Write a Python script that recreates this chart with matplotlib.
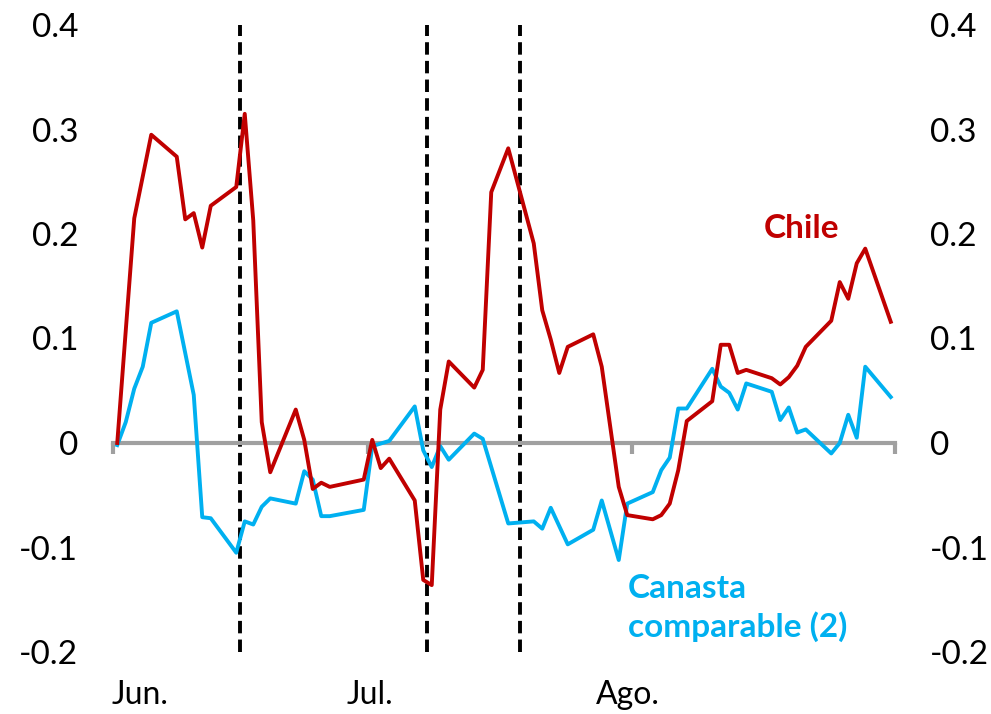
import matplotlib
matplotlib.use("Agg")
import matplotlib.pyplot as plt
import numpy as np

# Days since 1 June (business days shown as vertices)
chile_days = [0, 2, 4, 7, 8, 9, 10, 11, 14, 15, 16, 17, 18, 21, 22, 23, 24, 25, 29,
              30, 31, 32, 35, 36, 37, 38, 39, 42, 43, 44, 46, 49, 50, 51, 52, 53,
              56, 57, 59, 60, 63, 64, 65, 66, 67, 70, 71, 72, 73, 74, 77, 78, 79,
              80, 81, 84, 85, 86, 87, 88, 91]
chile = [0.000, 0.215, 0.295, 0.274, 0.214, 0.220, 0.187, 0.227, 0.245, 0.315, 0.213,
         0.020, -0.028, 0.032, 0.003, -0.044, -0.038, -0.042, -0.035,
         0.003, -0.024, -0.015, -0.055, -0.131, -0.136, 0.032, 0.078, 0.053, 0.070,
         0.240, 0.282, 0.191, 0.127, 0.099, 0.067, 0.092,
         0.104, 0.073, -0.042, -0.069, -0.073, -0.069, -0.058, -0.026, 0.021,
         0.040, 0.094, 0.094, 0.067, 0.070, 0.062, 0.056, 0.063,
         0.074, 0.092, 0.117, 0.154, 0.138, 0.172, 0.186, 0.116]

canasta_days = [0, 1, 2, 3, 4, 7, 8, 9, 10, 11, 14, 15, 16, 17, 18, 21, 22, 23, 24, 25,
                29, 30, 32, 35, 36, 37, 38, 39, 42, 43, 46, 49, 50, 51, 53,
                56, 57, 59, 60, 63, 64, 65, 66, 67, 70, 71, 72, 73, 74, 77, 78, 79,
                80, 81, 84, 85, 86, 87, 88, 91]
canasta = [-0.002, 0.020, 0.052, 0.073, 0.115, 0.126, 0.086, 0.046, -0.071, -0.072,
           -0.105, -0.075, -0.078, -0.061, -0.053, -0.058, -0.027, -0.035, -0.070, -0.070,
           -0.064, -0.003, 0.002, 0.035, -0.007, -0.023, -0.003, -0.016, 0.009, 0.004,
           -0.077, -0.075, -0.082, -0.062, -0.097,
           -0.083, -0.055, -0.112, -0.058, -0.047, -0.026, -0.014, 0.033, 0.033,
           0.071, 0.054, 0.048, 0.032, 0.057, 0.049, 0.022, 0.034,
           0.010, 0.013, -0.010, 0.000, 0.027, 0.005, 0.073, 0.044]

event_days = [14.45, 36.45, 47.4]
month_starts = [0, 30, 61, 92]
month_labels = ["Jun.", "Jul.", "Ago."]
month_label_pos = [3.2, 30.2, 60.6]
yticks = [-0.2, -0.1, 0, 0.1, 0.2, 0.3, 0.4]
ytick_labels = ["-0.2", "-0.1", "0", "0.1", "0.2", "0.3", "0.4"]

RED = "#C00000"
BLUE = "#00B0F0"
GRAY = "#A0A0A0"
FONT = ["Lato", "DejaVu Sans"]
FS = 24

plt.rcParams['font.family'] = FONT

fig = plt.figure(figsize=(9.91, 7.14), dpi=100)
ax = fig.add_axes([113/991, 1-652/714, (895-113)/991, (652-25)/714])

ax.set_xlim(0, 92)
ax.set_ylim(-0.2, 0.4)

for d in event_days:
    ax.plot([d + 0.5, d + 0.5], [-0.2, 0.4], color="black", lw=2.8,
            linestyle=(0, (3.2, 1.6)), zorder=1, clip_on=False)

ax.plot(np.array(canasta_days) + 0.5, canasta, color=BLUE, lw=2.8, zorder=3)
ax.plot(np.array(chile_days) + 0.5, chile, color=RED, lw=2.8, zorder=4)

for s in ["top", "left", "right"]:
    ax.spines[s].set_visible(False)
ax.spines["bottom"].set_position(("data", 0))
ax.spines["bottom"].set_color(GRAY)
ax.spines["bottom"].set_linewidth(3)
ax.spines["bottom"].set_zorder(2)
ax.set_xticks(month_starts)
ax.set_xticklabels([])
ax.tick_params(axis="x", direction="out", length=8, width=3, color=GRAY)

ax.set_yticks(yticks)
ax.set_yticklabels(ytick_labels)
ax.tick_params(axis="y", length=0, pad=25, labelsize=FS, left=True, right=False,
               labelleft=True, labelright=False)
ax2 = ax.twinx()
ax2.set_ylim(-0.2, 0.4)
for s in ["top", "left", "right", "bottom"]:
    ax2.spines[s].set_visible(False)
ax2.set_yticks(yticks)
ax2.set_yticklabels(ytick_labels)
ax2.tick_params(axis="y", length=0, pad=25, labelsize=FS)

for lab, pos in zip(month_labels, month_label_pos):
    ax.text(pos, -0.2415, lab, ha="center", va="center", fontsize=23)

ax.text(81.0, 0.205, "Chile", color=RED, fontsize=FS, fontweight="bold",
        ha="center", va="center")
ax.text(60.6, -0.158, "Canasta\ncomparable (2)", color=BLUE, fontsize=FS,
        fontweight="bold", ha="left", va="center", linespacing=1.3)

fig.savefig("out.png", dpi=100)
